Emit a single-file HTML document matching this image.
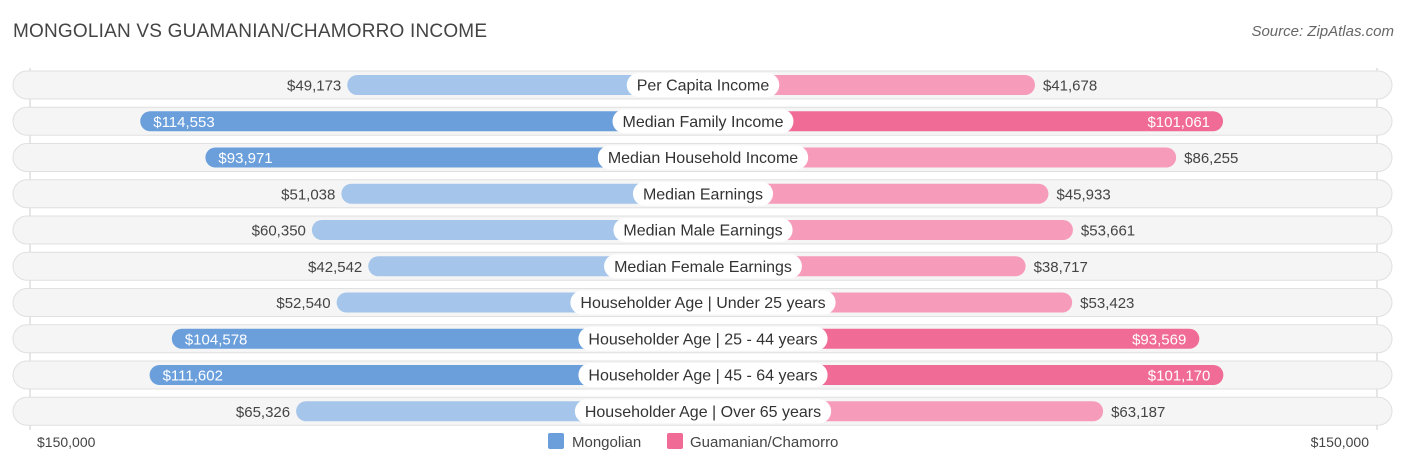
<!DOCTYPE html>
<html><head><meta charset="utf-8"><style>
body{margin:0;width:1406px;height:467px;background:#fff;font-family:"Liberation Sans",sans-serif;overflow:hidden;position:relative}
#title{position:absolute;left:13px;top:21px;font-size:19px;color:#444;letter-spacing:0.2px}
#source{position:absolute;right:12px;top:23px;font-size:15px;color:#666;font-style:italic}
</style></head><body>
<div id="title">MONGOLIAN VS GUAMANIAN/CHAMORRO INCOME</div>
<div id="source">Source: ZipAtlas.com</div>
<svg id="chart" width="1406" height="467" style="position:absolute;left:0;top:0"></svg>
<script>
const categories=["Per Capita Income","Median Family Income","Median Household Income","Median Earnings","Median Male Earnings","Median Female Earnings","Householder Age | Under 25 years","Householder Age | 25 - 44 years","Householder Age | 45 - 64 years","Householder Age | Over 65 years"];
const mongolian=[49173,114553,93971,51038,60350,42542,52540,104578,111602,65326];
const guamanian=[41678,101061,86255,45933,53661,38717,53423,93569,101170,63187];
const axisLabels=["$150,000","$150,000"];
const NS="http://www.w3.org/2000/svg";
const svg=document.getElementById("chart");
const cx=703, off=200, maxV=150000, half=475;
function xs(v){return off+v/maxV*half;}
function rowY(i){return 85+i*36.25;}
function fmt(v){return "$"+v.toLocaleString("en-US");}
function mk(t,a,p){const e=document.createElementNS(NS,t);for(const k in a)e.setAttribute(k,a[k]);(p||svg).appendChild(e);return e;}
const ax=mk("line",{x1:30,x2:30,y1:68,y2:430,stroke:"#ccc","stroke-width":1});


const ax2=mk("line",{x1:1377,x2:1377,y1:68,y2:430,stroke:"#ccc","stroke-width":1});


categories.forEach((c,i)=>{
  const y=rowY(i);
  const g=mk("g",{});
  
  
  const bg=mk("rect",{x:13,y:y-14,width:1379,height:28,rx:14,fill:"#f5f5f5",stroke:"#e0e0e0","stroke-width":1},g);
  
  
  const m=mongolian[i], w=xs(m), dm=m>90000;
  const b1=mk("rect",{x:cx-w,y:y-10,width:w,height:20,rx:10,fill:dm?"#6a9fdc":"#a5c5ea"},g);
  
  
  const t1=mk("text",{x:dm?cx-w+13:cx-w-6,y:y+5.5,"font-size":15,fill:dm?"#fff":"#444","text-anchor":dm?"start":"end"},g);
  t1.textContent=fmt(m);
  
  
  const f=guamanian[i], w2=xs(f), df=f>90000;
  const b2=mk("rect",{x:cx,y:y-10,width:w2,height:20,rx:10,fill:df?"#f06b96":"#f69cba"},g);
  
  
  const t2=mk("text",{x:df?cx+w2-13:cx+w2+8,y:y+5.5,"font-size":15,fill:df?"#fff":"#444","text-anchor":df?"end":"start"},g);
  t2.textContent=fmt(f);
  
  
  const lt=mk("text",{x:cx,y:y+5.5,"font-size":16,fill:"#333","text-anchor":"middle"},g);
  lt.textContent=c;
  const tw=lt.getComputedTextLength();
  const pill=mk("rect",{x:cx-tw/2-10,y:y-12,width:tw+20,height:24,rx:12,fill:"#fff"},g);
  g.insertBefore(pill,lt);
  
  
  
  
});
const l1=mk("text",{x:37,y:447,"font-size":14,fill:"#444"});l1.textContent=axisLabels[0];


const l2=mk("text",{x:1369,y:447,"font-size":14,fill:"#444","text-anchor":"end"});l2.textContent=axisLabels[1];


const s1=mk("rect",{x:548,y:433,width:16,height:16,rx:2,fill:"#6a9fdc"});


const lg1=mk("text",{x:572,y:447,"font-size":15,fill:"#444"});lg1.textContent="Mongolian";


const s2=mk("rect",{x:667,y:433,width:16,height:16,rx:2,fill:"#f06b96"});


const lg2=mk("text",{x:690,y:447,"font-size":15,fill:"#444"});lg2.textContent="Guamanian/Chamorro";


</script>
</body></html>
